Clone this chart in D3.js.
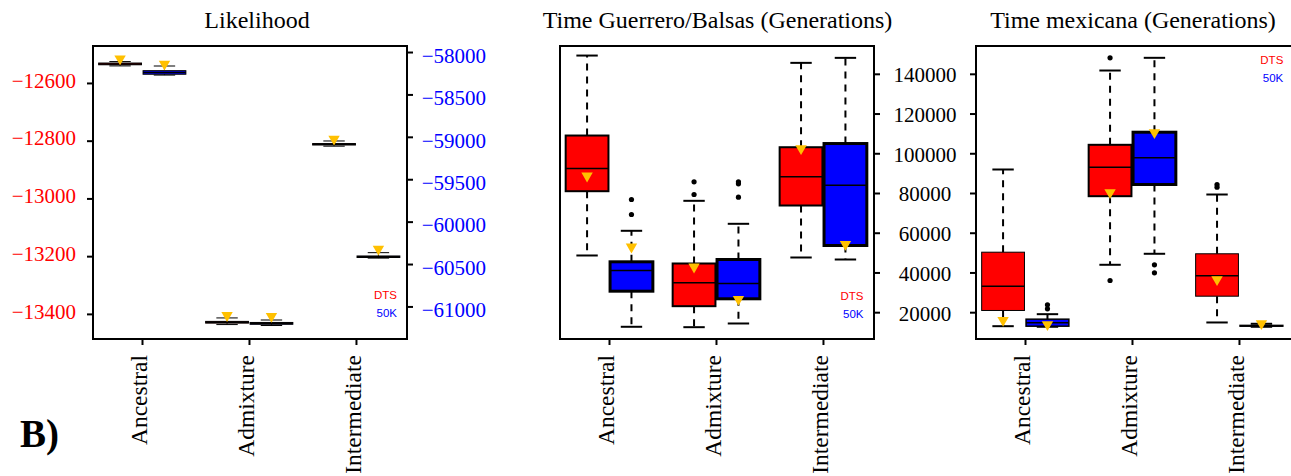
<!DOCTYPE html>
<html>
<head>
<meta charset="utf-8">
<script src="https://cdn.jsdelivr.net/npm/d3@7"></script>
<style>
  body { margin: 0; background: #fff; }
  svg text { font-family: "Liberation Serif", "Times New Roman", serif; }
  .legend text { font-family: "Liberation Sans", Arial, sans-serif; }
</style>
</head>
<body>
<div id="chart"></div>
<script>
const groups = ["Ancestral", "Admixture", "Intermediate"];
const seriesNames = ["DTS", "50K"];
const seriesColors = ["#ff0000", "#0000ff"];

// box stats per group: [lower whisker, q1, median, q3, upper whisker]
// Likelihood (DTS on the red left axis, 50K on the blue right axis)
const likDTS = [
  [-12541, -12537, -12534, -12531, -12526],
  [-13437, -13432, -13429, -13426, -13414],
  [-12819, -12815, -12812.5, -12810, -12801],
];
const likDTSObs = [-12516, -13405, -12794];
const lik50K = [
  [-58272, -58262, -58242, -58220, -58165],
  [-61225, -61210, -61200, -61189, -61160],
  [-60430, -60423, -60413, -60405, -60366],
];
const lik50KObs = [-58141, -61116, -60323];
const likLeftTicks = [-12600, -12800, -13000, -13200, -13400];
const likRightTicks = [-58000, -58500, -59000, -59500, -60000, -60500, -61000];

// Time Guerrero/Balsas (generations)
const tgbDTS = [
  [48540, 80900, 92320, 108930, 149190],
  [12450, 23020, 34800, 44510, 76060],
  [47530, 73700, 88140, 103040, 145510],
];
const tgbDTSObs = [88650, 42850, 102390];
const tgbDTSOut = [[], [85630, 79240], []];
const tgb50K = [
  [12650, 30570, 40990, 45360, 60970],
  [14310, 26740, 34440, 46520, 64490],
  [46520, 53570, 83920, 104900, 148030],
];
const tgb50KObs = [52910, 26540, 54220];
const tgb50KOut = [[76720, 69170], [85600, 84600, 77880], []];

// Time mexicana (generations)
const tmxDTS = [
  [12950, 20860, 33090, 50200, 91830],
  [43860, 78390, 92990, 104260, 141660],
  [14820, 28050, 38320, 49400, 79240],
];
const tmxDTSObs = [15970, 80250, 36460];
const tmxDTSOut = [[], [148050, 35960], [84280, 82920]];
const tmx50K = [
  [12650, 12950, 14660, 16480, 19000],
  [49400, 84280, 97710, 110600, 148050],
  [12650, 12950, 13150, 13350, 14160],
];
const tmx50KObs = [13810, 110450, 14310];
const tmx50KOut = [[23700, 21700], [43860, 39830], []];

const timeTicks = [20000, 40000, 60000, 80000, 100000, 120000, 140000];

class BoxPanel {
  /**
   * One boxplot panel with DTS / 50K boxes side by side per group
   */
  constructor(_config, _series) {
    this.config = {
      parentElement: _config.parentElement,
      left: _config.left,
      top: 46,
      width: 314,
      height: 293,
      frameWidth: _config.frameWidth || 314,
      title: _config.title,
      titleX: _config.titleX,
      domains: _config.domains,
      axes: _config.axes,
      legend: _config.legend,
      boxLwd: _config.boxLwd,
      whiskerLwd: _config.whiskerLwd || 2,
    };
    this.series = _series;
    this.initVis();
  }

  initVis() {
    let vis = this;
    const c = vis.config;

    vis.g = c.parentElement
      .append("g")
      .attr("transform", `translate(${c.left},${c.top})`);

    vis.x = d3.scaleLinear().domain([0.542, 3.477]).range([0, c.width]);
    vis.yScales = c.domains.map((d) =>
      d3.scaleLinear().domain(d).range([c.height, 0])
    );

    // title
    c.parentElement
      .append("text")
      .attr("x", c.titleX)
      .attr("y", 28)
      .attr("text-anchor", "middle")
      .attr("font-size", 24)
      .text(c.title);

    vis.renderVis();
  }

  renderVis() {
    let vis = this;
    const c = vis.config;
    const boxOffset = [-0.205, 0.21];
    const boxW = vis.x(0.4) - vis.x(0);
    const capW = boxW / 2;

    vis.series.forEach((s, k) => {
      const y = vis.yScales[s.scale];
      const sg = vis.g.append("g").attr("class", "series-" + k);

      s.stats.forEach((st, i) => {
        const cx = vis.x(i + 1 + boxOffset[k]);
        const [lo, q1, med, q3, hi] = st;
        const b = sg.append("g");

        // whiskers
        b.append("line")
          .attr("x1", cx).attr("x2", cx)
          .attr("y1", y(q3)).attr("y2", y(hi))
          .attr("stroke", "#000")
          .attr("stroke-width", c.whiskerLwd)
          .attr("stroke-dasharray", "7,6");
        b.append("line")
          .attr("x1", cx).attr("x2", cx)
          .attr("y1", y(q1)).attr("y2", y(lo))
          .attr("stroke", "#000")
          .attr("stroke-width", c.whiskerLwd)
          .attr("stroke-dasharray", "7,6");
        [lo, hi].forEach((v) => {
          b.append("line")
            .attr("x1", cx - capW / 2).attr("x2", cx + capW / 2)
            .attr("y1", y(v)).attr("y2", y(v))
            .attr("stroke", "#000")
            .attr("stroke-width", c.whiskerLwd);
        });

        // box + median
        b.append("rect")
          .attr("x", cx - boxW / 2)
          .attr("y", y(q3))
          .attr("width", boxW)
          .attr("height", Math.max(0.5, y(q1) - y(q3)))
          .attr("fill", s.color)
          .attr("stroke", "#000")
          .attr("stroke-width", c.boxLwd[k][i]);
        b.append("line")
          .attr("x1", cx - boxW / 2).attr("x2", cx + boxW / 2)
          .attr("y1", y(med)).attr("y2", y(med))
          .attr("stroke", "#000")
          .attr("stroke-width", 1.5);

        // outliers
        b.selectAll("circle")
          .data(s.outliers ? s.outliers[i] : [])
          .join("circle")
          .attr("cx", cx)
          .attr("cy", (d) => y(d))
          .attr("r", 2.6)
          .attr("fill", "#000");
      });
    });

    // observed values as downward triangles, on top
    vis.series.forEach((s, k) => {
      const y = vis.yScales[s.scale];
      vis.g
        .append("g")
        .selectAll("path")
        .data(s.obs)
        .join("path")
        .attr("d", "M-5.7,-3.3L5.7,-3.3L0,6.6Z")
        .attr("fill", "#ffc000")
        .attr("transform", (d, i) =>
          `translate(${vis.x(i + 1 + boxOffset[k])},${y(d)})`
        );
    });

    // frame
    vis.g
      .append("rect")
      .attr("width", c.frameWidth)
      .attr("height", c.height)
      .attr("fill", "none")
      .attr("stroke", "#000")
      .attr("stroke-width", 2);

    // x axis with rotated group labels
    const xAxis = d3
      .axisBottom(vis.x)
      .tickValues([1, 2, 3])
      .tickSize(6)
      .tickFormat((d) => groups[d - 1]);
    const xg = vis.g
      .append("g")
      .attr("transform", `translate(0,${c.height})`)
      .call(xAxis);
    xg.select(".domain").remove();
    xg.selectAll("line").attr("stroke-width", 2);
    xg.selectAll("text")
      .attr("x", 0)
      .attr("y", 0)
      .attr("dy", 0)
      .attr("transform", "translate(5,16) rotate(-90)")
      .attr("text-anchor", "end")
      .attr("font-family", "Liberation Serif, serif")
      .attr("font-size", 23.5)
      .attr("fill", "#000");

    // y axes
    c.axes.forEach((a) => {
      const y = vis.yScales[a.scale];
      const axis = (a.side === "left" ? d3.axisLeft(y) : d3.axisRight(y))
        .tickValues(a.ticks)
        .tickSize(6)
        .tickPadding(a.padding)
        .tickFormat(a.labels ? d3.format("d") : () => "");
      const ag = vis.g
        .append("g")
        .attr("transform", a.side === "left" ? "" : `translate(${c.width},0)`)
        .call(axis);
      ag.select(".domain").remove();
      ag.selectAll("line").attr("stroke", "#000").attr("stroke-width", 2);
      const txt = ag
        .selectAll("text")
        .attr("font-family", "Liberation Serif, serif")
        .attr("font-size", 21)
        .attr("fill", a.color)
        .attr("y", a.dy);
      if (a.anchor) txt.attr("text-anchor", a.anchor).attr("x", a.textX);
    });

    // legend
    const lg = vis.g.append("g").attr("class", "legend");
    seriesNames.forEach((n, k) => {
      lg.append("text")
        .attr("x", c.legend.x)
        .attr("y", c.legend.y + k * 17.5)
        .attr("text-anchor", "end")
        .attr("font-size", 11.5)
        .attr("fill", seriesColors[k])
        .text(n);
    });
  }
}

const svg = d3
  .select("#chart")
  .append("svg")
  .attr("width", 1291)
  .attr("height", 476);

new BoxPanel(
  {
    parentElement: svg,
    left: 93,
    title: "Likelihood",
    titleX: 257,
    domains: [
      [-13487, -12472],
      [-61384, -57929],
    ],
    axes: [
      { side: "left", scale: 0, ticks: likLeftTicks, labels: true, padding: 11, color: "#ff0000", dy: -2.5 },
      { side: "right", scale: 1, ticks: likRightTicks, labels: true, padding: 8.7, color: "#0000ff", dy: 3.5 },
    ],
    legend: { x: 304, y: 253.3 },
    boxLwd: [
      [1, 1, 1],
      [1, 1, 1],
    ],
    whiskerLwd: 1,
  },
  [
    { color: seriesColors[0], scale: 0, stats: likDTS, obs: likDTSObs },
    { color: seriesColors[1], scale: 1, stats: lik50K, obs: lik50KObs },
  ]
);

new BoxPanel(
  {
    parentElement: svg,
    left: 560,
    title: "Time Guerrero/Balsas (Generations)",
    titleX: 717.5,
    domains: [
      [6500, 154000],
      [6500, 154000],
    ],
    axes: [
      { side: "right", scale: 0, ticks: timeTicks, labels: true, padding: 0, color: "#000", dy: 1.2, anchor: "middle", textX: 51 },
    ],
    legend: { x: 303.5, y: 254.3 },
    boxLwd: [
      [2, 2, 2],
      [3, 3, 3],
    ],
  },
  [
    { color: seriesColors[0], scale: 0, stats: tgbDTS, obs: tgbDTSObs, outliers: tgbDTSOut },
    { color: seriesColors[1], scale: 0, stats: tgb50K, obs: tgb50KObs, outliers: tgb50KOut },
  ]
);

new BoxPanel(
  {
    parentElement: svg,
    left: 976,
    frameWidth: 330,
    title: "Time mexicana (Generations)",
    titleX: 1133,
    domains: [
      [6500, 154000],
      [6500, 154000],
    ],
    axes: [
      { side: "left", scale: 0, ticks: timeTicks, labels: false, padding: 3, color: "#000", dy: 0 },
    ],
    legend: { x: 307.3, y: 18.3 },
    boxLwd: [
      [1, 2, 1],
      [1.5, 3, 1.5],
    ],
  },
  [
    { color: seriesColors[0], scale: 0, stats: tmxDTS, obs: tmxDTSObs, outliers: tmxDTSOut },
    { color: seriesColors[1], scale: 0, stats: tmx50K, obs: tmx50KObs, outliers: tmx50KOut },
  ]
);

// panel tag
svg
  .append("text")
  .attr("x", 20)
  .attr("y", 447)
  .attr("font-size", 39)
  .attr("font-weight", "bold")
  .text("B)");
</script>
</body>
</html>
